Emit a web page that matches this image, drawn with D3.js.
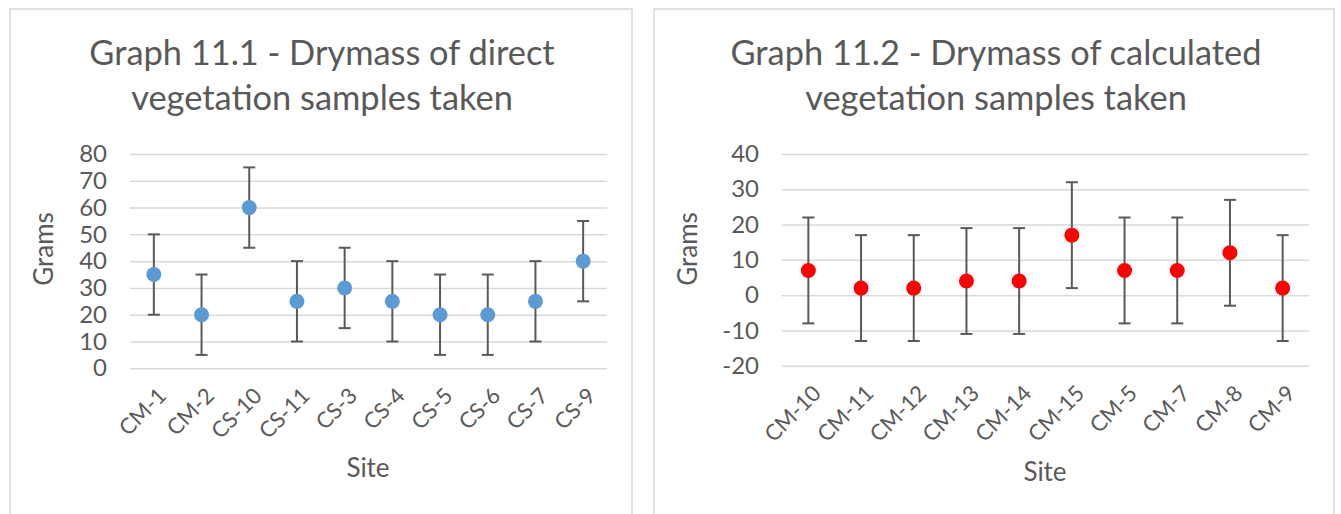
<!DOCTYPE html>
<html>
<head>
<meta charset="utf-8">
<script src="https://cdnjs.cloudflare.com/ajax/libs/d3/7.8.5/d3.min.js"></script>
<style>
  body { margin: 0; background: #fff; }
  text { font-family: Lato, "Open Sans", sans-serif; fill: #595959; }
</style>
</head>
<body>
<div id="chart"></div>
<script>
var width = 1341,
    height = 514;

// Graph 11.1 - direct samples
var sites1 = ["CM-1", "CM-2", "CS-10", "CS-11", "CS-3", "CS-4", "CS-5", "CS-6", "CS-7", "CS-9"];
var drymass1 = [35, 20, 60, 25, 30, 25, 20, 20, 25, 40];
var err1 = [15, 15, 15, 15, 15, 15, 15, 15, 15, 15];
var ticks1 = [0, 10, 20, 30, 40, 50, 60, 70, 80];

// Graph 11.2 - calculated samples
var sites2 = ["CM-10", "CM-11", "CM-12", "CM-13", "CM-14", "CM-15", "CM-5", "CM-7", "CM-8", "CM-9"];
var drymass2 = [7, 2, 2, 4, 4, 17, 7, 7, 12, 2];
var err2 = [15, 15, 15, 15, 15, 15, 15, 15, 15, 15];
var ticks2 = [-20, -10, 0, 10, 20, 30, 40];

var svg = d3.select("#chart")
    .append("svg")
    .attr("width", width)
    .attr("height", height);

function drawPanel(cfg) {
    var g = svg.append("g");

    // chart area border
    g.append("rect")
        .attr("x", cfg.box[0])
        .attr("y", cfg.box[1])
        .attr("width", cfg.box[2] - cfg.box[0])
        .attr("height", height + 20)
        .style("fill", "#fff")
        .style("stroke", "#d9d9d9")
        .style("stroke-width", 1.5);

    var x = d3.scaleBand()
        .domain(cfg.sites)
        .range([cfg.plot.left, cfg.plot.right]);

    var y = d3.scaleLinear()
        .domain(d3.extent(cfg.ticks))
        .range([cfg.plot.bottom, cfg.plot.top]);

    // gridlines + tick labels
    var yAxis = d3.axisLeft(y)
        .tickValues(cfg.ticks)
        .tickFormat(d => String(d))
        .tickSize(-(cfg.plot.right - cfg.plot.left))
        .tickPadding(23);

    var ax = g.append("g")
        .attr("transform", `translate(${cfg.plot.left}, 0)`)
        .call(yAxis);
    ax.select(".domain").remove();
    ax.selectAll("line")
        .style("stroke", "#d9d9d9")
        .style("stroke-width", 1.5);
    ax.selectAll("text")
        .attr("fill", "#595959")
        .style("font-size", "24px")
        .style("font-family", "Lato, sans-serif");

    // x labels, rotated
    g.selectAll(".xlbl")
        .data(cfg.sites)
        .enter()
        .append("text")
        .attr("class", "xlbl")
        .attr("text-anchor", "end")
        .attr("transform", d => `translate(${x(d) + x.bandwidth() / 2 + 14}, ${cfg.plot.bottom + 29}) rotate(-45)`)
        .style("font-size", "22px")
        .text(d => d);

    var pts = cfg.sites.map((s, i) => ({ site: s, v: cfg.values[i], e: cfg.errs[i] }));
    var cx = d => x(d.site) + x.bandwidth() / 2;

    // error bars
    var eb = g.selectAll(".err")
        .data(pts)
        .enter()
        .append("g")
        .attr("class", "err")
        .style("stroke", "#595959")
        .style("stroke-width", 2);
    eb.append("line")
        .attr("x1", cx).attr("x2", cx)
        .attr("y1", d => y(d.v + d.e))
        .attr("y2", d => y(d.v - d.e));
    eb.append("line")
        .attr("x1", d => cx(d) - 6).attr("x2", d => cx(d) + 6)
        .attr("y1", d => y(d.v + d.e)).attr("y2", d => y(d.v + d.e));
    eb.append("line")
        .attr("x1", d => cx(d) - 6).attr("x2", d => cx(d) + 6)
        .attr("y1", d => y(d.v - d.e)).attr("y2", d => y(d.v - d.e));

    // markers
    g.selectAll(".pt")
        .data(pts)
        .enter()
        .append("circle")
        .attr("class", "pt")
        .attr("cx", cx)
        .attr("cy", d => y(d.v))
        .attr("r", 7.5)
        .style("fill", cfg.color);

    // title
    var t = g.append("text")
        .attr("text-anchor", "middle")
        .style("font-size", "34.4px");
    t.append("tspan").attr("x", cfg.titleX).attr("y", 65).text(cfg.title[0]);
    t.append("tspan").attr("x", cfg.titleX).attr("y", 110).text(cfg.title[1]);

    // axis titles
    g.append("text")
        .attr("text-anchor", "middle")
        .attr("transform", `translate(${cfg.gramsX}, 249) rotate(-90)`)
        .attr("dy", "0.35em")
        .style("font-size", "26px")
        .text("Grams");

    g.append("text")
        .attr("text-anchor", "middle")
        .attr("x", cfg.siteX)
        .attr("y", cfg.siteY)
        .style("font-size", "26px")
        .text("Site");
}

drawPanel({
    box: [10, 9, 632],
    plot: { left: 130, right: 607, top: 154, bottom: 368.3 },
    sites: sites1, values: drymass1, errs: err1, ticks: ticks1,
    color: "#5b9bd5",
    title: ["Graph 11.1 - Drymass of direct", "vegetation samples taken"],
    titleX: 322, gramsX: 44, siteX: 368, siteY: 477
});

drawPanel({
    box: [654, 9, 1334],
    plot: { left: 782, right: 1309, top: 154, bottom: 365.7 },
    sites: sites2, values: drymass2, errs: err2, ticks: ticks2,
    color: "#ff0000",
    title: ["Graph 11.2 - Drymass of calculated", "vegetation samples taken"],
    titleX: 996, gramsX: 688, siteX: 1045, siteY: 481
});
</script>
</body>
</html>
